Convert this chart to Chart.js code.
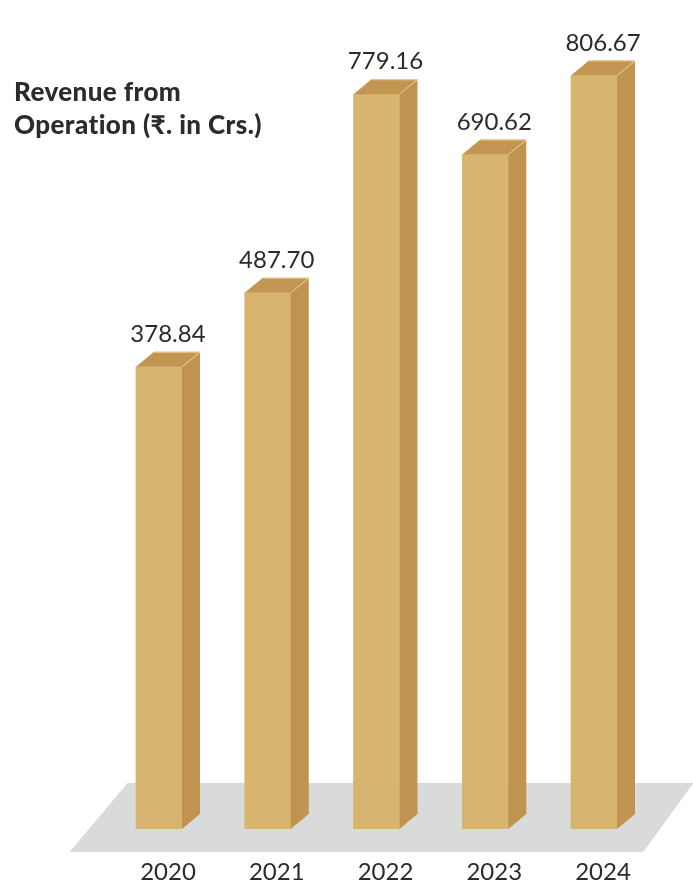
<!DOCTYPE html>
<html>
<head>
<meta charset="utf-8">
<script src="https://cdn.jsdelivr.net/npm/chart.js@4/dist/chart.umd.min.js"></script>
<style>
  html, body { margin: 0; padding: 0; background: #fff; }
  #wrap { position: relative; width: 693px; height: 891px; }
  #titre {
    position: absolute; left: 14px; top: 75px;
    font-family: Lato, sans-serif; font-weight: 900; font-size: 26px;
    letter-spacing: 0.4px; line-height: 33px; color: #2b2b2b;
  }
</style>
</head>
<body>
<div id="wrap">
  <canvas id="chartRevenu" width="693" height="891"></canvas>
  <div id="titre">Revenue from<br>Operation (₹. in Crs.)</div>
</div>
<script>
const annees = ['2020', '2021', '2022', '2023', '2024'];
const revenus = [378.84, 487.70, 779.16, 690.62, 806.67];
const libelles = ['378.84', '487.70', '779.16', '690.62', '806.67'];

// base of the value axis (the bars are not drawn from zero)
const BASE = -300;
const PROF_X = 18, PROF_Y = 15;

const couleurs = {
  face: '#D8B56F',
  cote: '#C09450',
  dessus: '#C29651',
  arete: '#E6CC98',
  sol: '#D9DBDA',
  texte: '#2b2b2b'
};

// grey floor under the bars
const solPlugin = {
  id: 'sol',
  beforeDatasetsDraw(chart) {
    const { ctx, chartArea: a } = chart;
    ctx.save();
    ctx.fillStyle = couleurs.sol;
    ctx.beginPath();
    ctx.moveTo(a.left - 35, a.bottom + 23);
    ctx.lineTo(a.left + 23, a.bottom - 46);
    ctx.lineTo(a.right + 45, a.bottom - 46);
    ctx.lineTo(a.right - 5, a.bottom + 23);
    ctx.closePath();
    ctx.fill();
    ctx.restore();
  }
};

// side and top faces, value labels, year labels
const relief = {
  id: 'relief',
  afterDatasetsDraw(chart) {
    const { ctx } = chart;
    const meta = chart.getDatasetMeta(0);
    ctx.save();
    meta.data.forEach((bar, i) => {
      const p = bar.getProps(['x', 'y', 'base', 'width'], true);
      const g = p.x - p.width / 2, d = p.x + p.width / 2;
      // side
      ctx.fillStyle = couleurs.cote;
      ctx.beginPath();
      ctx.moveTo(d, p.y);
      ctx.lineTo(d + PROF_X, p.y - PROF_Y);
      ctx.lineTo(d + PROF_X, p.base - PROF_Y);
      ctx.lineTo(d, p.base);
      ctx.closePath();
      ctx.fill();
      // top
      ctx.fillStyle = couleurs.dessus;
      ctx.beginPath();
      ctx.moveTo(g, p.y);
      ctx.lineTo(g + PROF_X, p.y - PROF_Y);
      ctx.lineTo(d + PROF_X, p.y - PROF_Y);
      ctx.lineTo(d, p.y);
      ctx.closePath();
      ctx.fill();
      // light edges
      ctx.strokeStyle = couleurs.arete;
      ctx.lineWidth = 1;
      ctx.beginPath();
      ctx.moveTo(g + PROF_X, p.y - PROF_Y + 0.5);
      ctx.lineTo(d + PROF_X, p.y - PROF_Y + 0.5);
      ctx.lineTo(d, p.y);
      ctx.stroke();

      const cx = p.x + PROF_X / 2;
      ctx.fillStyle = couleurs.texte;
      ctx.textAlign = 'center';
      ctx.textBaseline = 'alphabetic';
      ctx.font = '24px Lato, sans-serif';
      ctx.fillText(libelles[i], cx, p.y - PROF_Y - 10);
      ctx.fillText(annees[i], cx, p.base + 51);
    });
    ctx.restore();
  }
};

new Chart(document.getElementById('chartRevenu').getContext('2d'), {
  type: 'bar',
  data: {
    labels: annees,
    datasets: [{
      data: revenus,
      base: BASE,
      backgroundColor: couleurs.face,
      barThickness: 46,
      borderWidth: 0
    }]
  },
  options: {
    responsive: false,
    animation: false,
    layout: { padding: { left: 104.6, right: 44.6, top: 46, bottom: 62 } },
    plugins: { legend: { display: false }, tooltip: { enabled: false } },
    scales: {
      x: { display: false },
      y: { display: false, min: BASE, max: 850 }
    }
  },
  plugins: [solPlugin, relief]
});
</script>
</body>
</html>
